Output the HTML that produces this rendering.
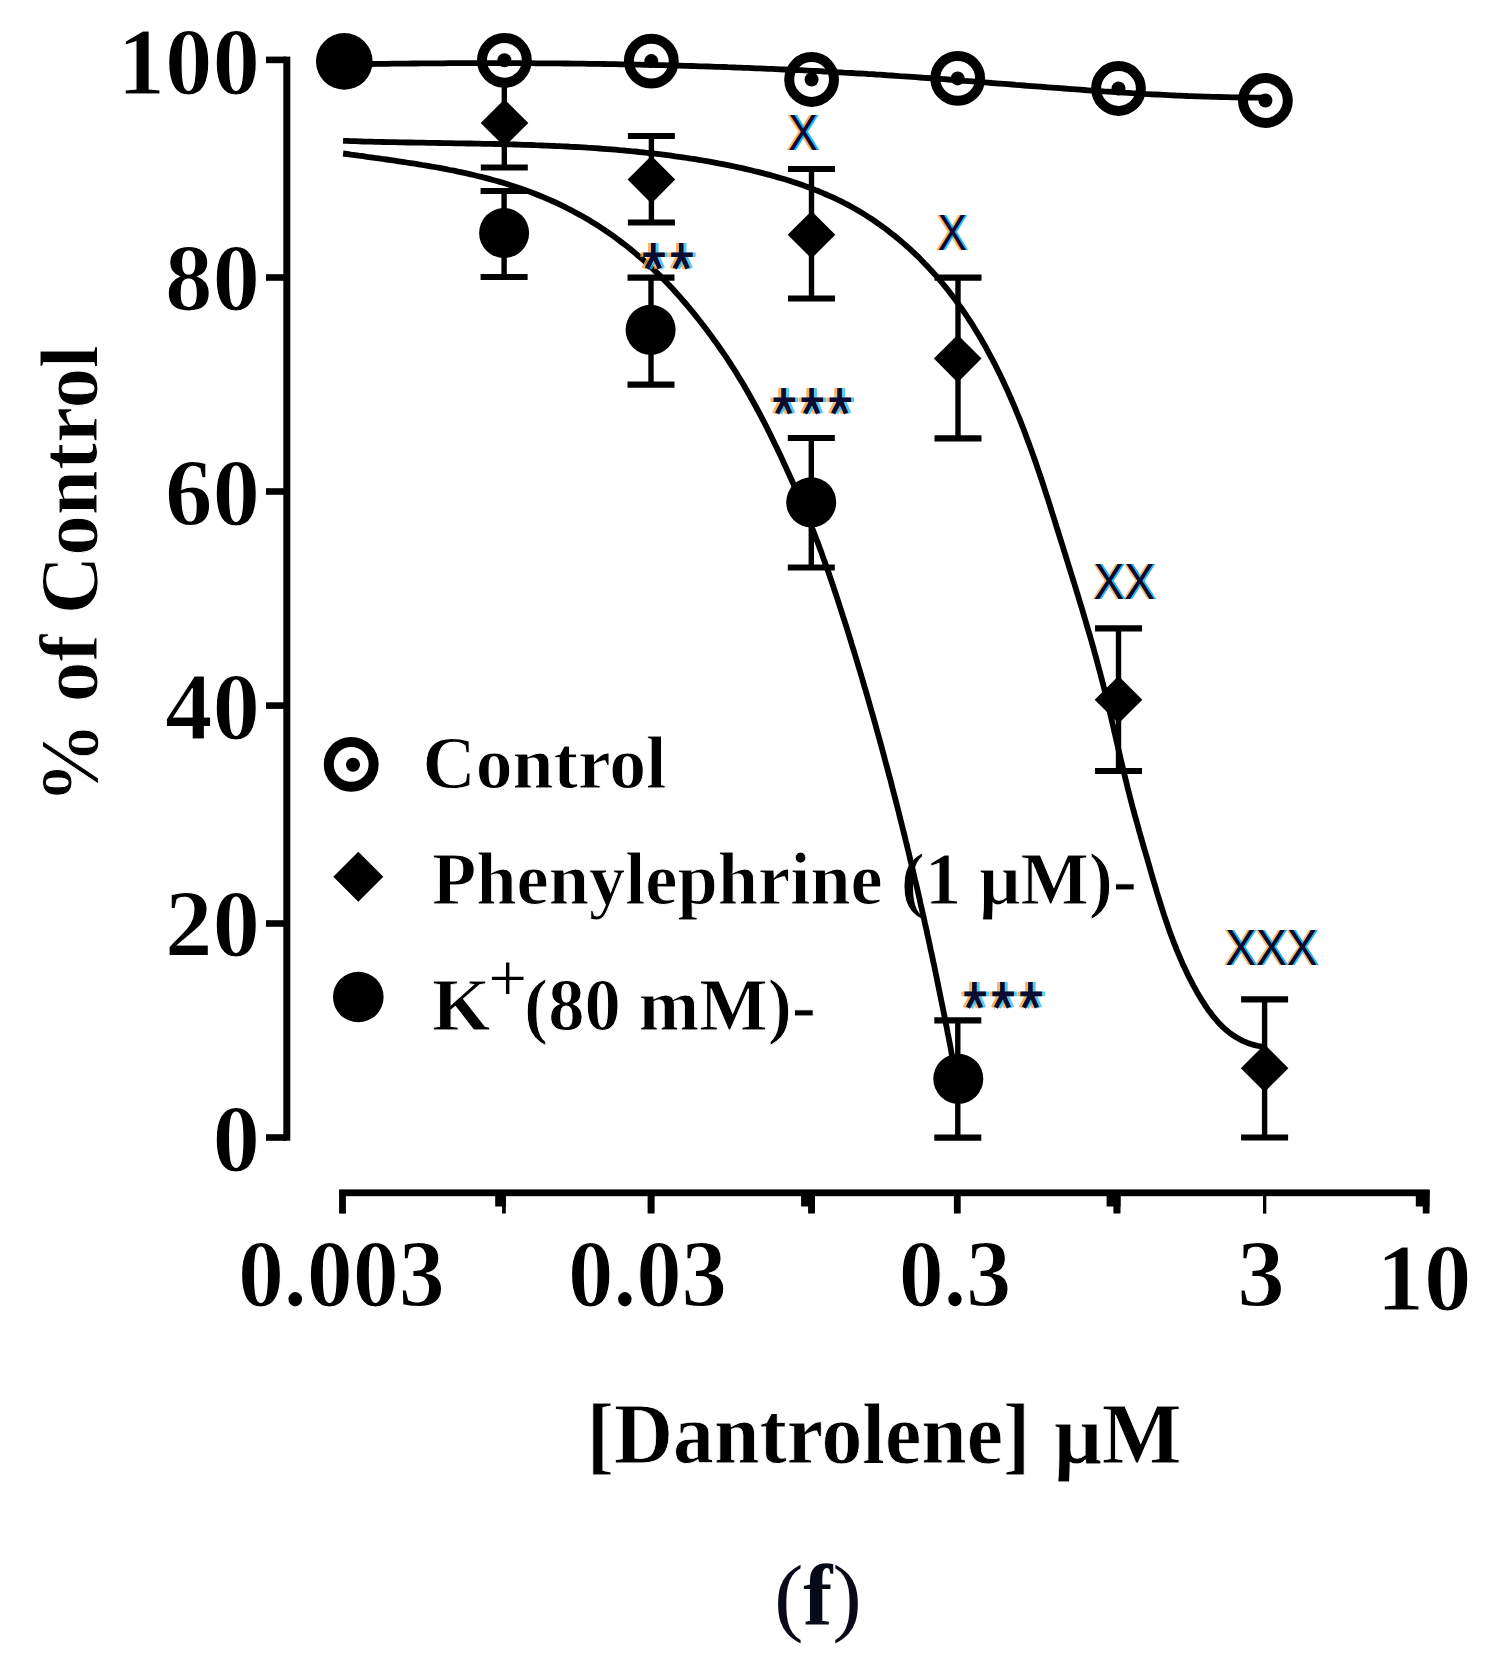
<!DOCTYPE html>
<html><head><meta charset="utf-8"><title>Dantrolene</title>
<style>
html,body{margin:0;padding:0;background:#fff;}
svg{display:block}
.t{font-family:"Liberation Serif",serif;font-weight:bold;fill:#000}
.a{font-family:"Liberation Sans",sans-serif;}
</style></head><body>
<svg width="1492" height="1669" viewBox="0 0 1492 1669">
<rect width="1492" height="1669" fill="#fff"/>

<g fill="#000">
<rect x="283.3" y="56.6" width="7" height="1084.1"/>
<rect x="266" y="56.6" width="20" height="6.6"/>
<rect x="266" y="274.2" width="20" height="6.6"/>
<rect x="266" y="488.2" width="20" height="6.6"/>
<rect x="266" y="702.3" width="20" height="6.6"/>
<rect x="266" y="920.2" width="20" height="6.6"/>
<rect x="266" y="1134.2" width="20" height="6.6"/>
<rect x="339.2" y="1189.4" width="1090.3" height="6.8"/>
<rect x="339.1" y="1190" width="6.8" height="23.6"/>
<rect x="495.2" y="1190" width="10.6" height="16.5"/><rect x="502.1" y="1190" width="3.7" height="23.5"/>
<rect x="647.6" y="1190" width="7" height="23.5"/>
<rect x="801.1" y="1190" width="13.9" height="16.5"/><rect x="808.1" y="1190" width="6.9" height="23.5"/>
<rect x="953.9" y="1190" width="6.8" height="23.5"/>
<rect x="1106.6" y="1190" width="13.9" height="16.5"/><rect x="1113.4" y="1190" width="7.1" height="23.5"/>
<rect x="1263" y="1190" width="3.3" height="23.6"/>
<rect x="1415.8" y="1190" width="13.7" height="16.5"/><rect x="1422.8" y="1190" width="6.7" height="23.5"/>
</g>
<g class="t" font-size="95" text-anchor="end" stroke="#fff" stroke-width="1.2">
<text x="260" y="93.5">100</text>
<text x="260" y="310.0">80</text>
<text x="260" y="524.5">60</text>
<text x="260" y="739.0">40</text>
<text x="260" y="956.0">20</text>
<text x="260" y="1170.5">0</text>
</g>
<g class="t" font-size="95" text-anchor="middle" stroke="#fff" stroke-width="1.2">
<text x="341.3" y="1305.5" textLength="206.8" lengthAdjust="spacingAndGlyphs">0.003</text>
<text x="647.5" y="1305.5" textLength="158.9" lengthAdjust="spacingAndGlyphs">0.03</text>
<text x="955.0" y="1305.5" textLength="112.3" lengthAdjust="spacingAndGlyphs">0.3</text>
<text x="1261.0" y="1305.5">3</text>
<text x="1424.0" y="1309.5">10</text>
</g>
<text class="t" stroke="#fff" stroke-width="1" font-size="83" transform="translate(97 574.5) rotate(-90)" text-anchor="middle" textLength="458" lengthAdjust="spacingAndGlyphs">% of Control</text>
<g class="t" stroke="#fff" stroke-width="0.8" font-size="86"><text x="586.8" y="1463" textLength="443.5" lengthAdjust="spacingAndGlyphs">[Dantrolene]</text><text x="1053.9" y="1463" textLength="127.7" lengthAdjust="spacingAndGlyphs">&#956;M</text></g>
<text class="t" font-size="87.5" x="774.2" y="1624.6" style="fill:#080b17"><tspan font-weight="normal">(</tspan>f<tspan font-weight="normal">)</tspan></text>
<circle cx="351.2" cy="764.4" r="22.4" fill="none" stroke="#000" stroke-width="10"/><circle cx="353" cy="764.7" r="7" fill="#000"/>
<path d="M358.3 851.8l25 25l-25 25l-25 -25z" fill="#000"/>
<circle cx="358.3" cy="997" r="25.3" fill="#000"/>
<g class="t" font-size="75" stroke="#fff" stroke-width="1">
<text x="422.5" y="788" textLength="244" lengthAdjust="spacingAndGlyphs">Control</text>
<text x="432" y="904.4" textLength="705" lengthAdjust="spacingAndGlyphs">Phenylephrine (1 &#956;M)-</text>
<text x="432" y="1029.5">K</text>
<text x="524" y="1029.5" textLength="292" lengthAdjust="spacingAndGlyphs">(80 mM)-</text>
</g>
<text x="488.6" y="1001" font-family="Liberation Serif" font-size="68">+</text>
<g fill="none" stroke="#000" stroke-width="5.8" stroke-linejoin="round" stroke-linecap="butt">
<path d="M344.0 64.4L348.0 64.4L352.0 64.3L356.0 64.2L360.0 64.2L364.0 64.1L368.0 64.1L372.0 64.0L376.0 63.9L380.0 63.9L384.0 63.8L388.0 63.8L392.0 63.7L396.0 63.7L400.0 63.6L404.0 63.6L408.0 63.6L412.0 63.5L416.0 63.5L420.0 63.4L424.0 63.4L428.0 63.4L432.0 63.3L436.0 63.3L440.0 63.3L444.0 63.3L448.0 63.2L452.0 63.2L456.0 63.2L460.0 63.2L464.0 63.2L468.0 63.2L472.0 63.1L476.0 63.1L480.0 63.1L484.0 63.1L488.0 63.1L492.0 63.1L496.0 63.1L500.0 63.1L504.0 63.1L508.0 63.1L512.0 63.2L516.0 63.2L520.0 63.2L524.0 63.2L528.0 63.2L532.0 63.2L536.0 63.3L540.0 63.3L544.0 63.3L548.0 63.3L552.0 63.4L556.0 63.4L560.0 63.4L564.0 63.5L568.0 63.5L572.0 63.6L576.0 63.6L580.0 63.7L584.0 63.7L588.0 63.8L592.0 63.8L596.0 63.9L600.0 63.9L604.0 64.0L608.0 64.1L612.0 64.1L616.0 64.2L620.0 64.3L624.0 64.4L628.0 64.4L632.0 64.5L636.0 64.6L640.0 64.7L644.0 64.8L648.0 64.9L652.0 64.9L656.0 65.0L660.0 65.1L664.0 65.2L668.0 65.3L672.0 65.4L676.0 65.6L680.0 65.7L684.0 65.8L688.0 65.9L692.0 66.0L696.0 66.1L700.0 66.3L704.0 66.4L708.0 66.5L712.0 66.6L716.0 66.8L720.0 66.9L724.0 67.0L728.0 67.2L732.0 67.3L736.0 67.5L740.0 67.6L744.0 67.8L748.0 67.9L752.0 68.1L756.0 68.3L760.0 68.4L764.0 68.6L768.0 68.8L772.0 68.9L776.0 69.1L780.0 69.3L784.0 69.5L788.0 69.7L792.0 69.9L796.0 70.0L800.0 70.2L804.0 70.4L808.0 70.6L812.0 70.8L816.0 71.0L820.0 71.2L824.0 71.5L828.0 71.7L832.0 71.9L836.0 72.1L840.0 72.3L844.0 72.6L848.0 72.8L852.0 73.0L856.0 73.3L860.0 73.5L864.0 73.7L868.0 74.0L872.0 74.2L876.0 74.5L880.0 74.7L884.0 75.0L888.0 75.3L892.0 75.5L896.0 75.8L900.0 76.1L904.0 76.3L908.0 76.6L912.0 76.9L916.0 77.2L920.0 77.5L924.0 77.8L928.0 78.0L932.0 78.3L936.0 78.6L940.0 78.9L944.0 79.2L948.0 79.5L952.0 79.8L956.0 80.2L960.0 80.5L964.0 80.8L968.0 81.1L972.0 81.4L976.0 81.7L980.0 82.0L984.0 82.3L988.0 82.6L992.0 83.0L996.0 83.3L1000.0 83.6L1004.0 83.9L1008.0 84.2L1012.0 84.5L1016.0 84.9L1020.0 85.2L1024.0 85.5L1028.0 85.8L1032.0 86.1L1036.0 86.4L1040.0 86.7L1044.0 87.0L1048.0 87.3L1052.0 87.6L1056.0 87.9L1060.0 88.2L1064.0 88.5L1068.0 88.8L1072.0 89.1L1076.0 89.4L1080.0 89.7L1084.0 90.0L1088.0 90.3L1092.0 90.6L1096.0 90.8L1100.0 91.1L1104.0 91.4L1108.0 91.6L1112.0 91.9L1116.0 92.2L1120.0 92.4L1124.0 92.7L1128.0 92.9L1132.0 93.2L1136.0 93.4L1140.0 93.6L1144.0 93.9L1148.0 94.1L1152.0 94.3L1156.0 94.5L1160.0 94.7L1164.0 94.9L1168.0 95.1L1172.0 95.3L1176.0 95.5L1180.0 95.6L1184.0 95.8L1188.0 96.0L1192.0 96.1L1196.0 96.3L1200.0 96.4L1204.0 96.6L1208.0 96.7L1212.0 96.8L1216.0 96.9L1220.0 97.0L1224.0 97.1L1228.0 97.2L1232.0 97.3L1236.0 97.4L1240.0 97.4L1244.0 97.5L1248.0 97.5L1252.0 97.6L1256.0 97.6L1260.0 97.6L1264.0 97.6L1265.0 97.6"/>
<path d="M343.1 140.8L347.1 140.9L351.1 141.1L355.1 141.2L359.1 141.3L363.1 141.5L367.1 141.6L371.1 141.7L375.1 141.8L379.1 141.9L383.1 142.0L387.1 142.1L391.1 142.2L395.1 142.2L399.2 142.3L403.2 142.4L407.2 142.5L411.2 142.5L415.2 142.6L419.2 142.7L423.2 142.7L427.2 142.8L431.2 142.9L435.2 142.9L439.2 143.0L443.2 143.1L447.2 143.1L451.2 143.2L455.2 143.3L459.3 143.3L463.3 143.4L467.3 143.5L471.3 143.5L475.3 143.6L479.3 143.7L483.3 143.8L487.3 143.8L491.3 143.9L495.3 144.0L499.3 144.1L503.3 144.2L507.3 144.3L511.3 144.4L515.3 144.5L519.4 144.6L523.4 144.8L527.4 144.9L531.4 145.0L535.4 145.2L539.4 145.3L543.4 145.5L547.4 145.6L551.4 145.8L555.4 146.0L559.4 146.1L563.4 146.3L567.4 146.5L571.4 146.8L575.4 147.0L579.4 147.2L583.4 147.4L587.4 147.7L591.4 147.9L595.4 148.2L599.4 148.5L603.4 148.8L607.4 149.1L611.4 149.4L615.4 149.7L619.4 150.1L623.4 150.4L627.4 150.8L631.4 151.2L635.3 151.5L639.3 152.0L643.3 152.4L647.3 152.8L651.3 153.3L655.3 153.7L659.2 154.2L663.2 154.7L667.2 155.2L671.2 155.7L675.1 156.3L679.1 156.8L683.1 157.4L687.0 158.0L691.0 158.6L695.0 159.2L698.9 159.9L702.9 160.5L706.8 161.2L710.8 161.9L714.7 162.6L718.6 163.4L722.6 164.1L726.5 164.9L730.4 165.7L734.4 166.5L738.3 167.4L742.2 168.2L746.1 169.1L750.0 170.0L753.9 171.0L757.8 171.9L761.7 172.9L765.6 173.9L769.4 174.9L773.3 176.0L777.2 177.1L781.0 178.2L784.8 179.3L788.7 180.5L792.5 181.8L796.3 183.0L800.1 184.3L803.9 185.6L807.6 187.0L811.4 188.4L815.1 189.9L818.8 191.3L822.5 192.9L826.2 194.5L829.9 196.1L833.5 197.7L837.2 199.5L840.8 201.2L844.3 203.0L847.9 204.9L851.4 206.8L854.9 208.8L858.4 210.8L861.8 212.8L865.2 214.9L868.6 217.1L872.0 219.3L875.3 221.5L878.6 223.8L881.8 226.1L885.1 228.5L888.3 230.9L891.4 233.4L894.6 235.9L897.7 238.4L900.7 241.0L903.8 243.6L906.8 246.2L909.8 248.9L912.7 251.6L915.6 254.4L918.5 257.2L921.3 260.0L924.1 262.9L926.9 265.8L929.6 268.7L932.4 271.7L935.0 274.6L937.7 277.7L940.3 280.7L942.8 283.8L945.4 286.9L947.9 290.0L950.3 293.2L952.8 296.4L955.2 299.6L957.5 302.8L959.9 306.1L962.2 309.3L964.4 312.6L966.7 316.0L968.9 319.3L971.1 322.7L973.2 326.1L975.3 329.5L977.4 332.9L979.5 336.3L981.5 339.8L983.5 343.3L985.5 346.7L987.4 350.3L989.3 353.8L991.2 357.3L993.1 360.9L994.9 364.4L996.7 368.0L998.5 371.6L1000.3 375.2L1002.0 378.8L1003.7 382.4L1005.4 386.1L1007.1 389.7L1008.7 393.4L1010.3 397.0L1011.9 400.7L1013.5 404.4L1015.1 408.1L1016.6 411.8L1018.1 415.5L1019.6 419.2L1021.1 422.9L1022.6 426.7L1024.0 430.4L1025.4 434.1L1026.8 437.9L1028.2 441.6L1029.6 445.4L1031.0 449.2L1032.3 452.9L1033.7 456.7L1035.0 460.5L1036.3 464.3L1037.6 468.1L1038.9 471.9L1040.2 475.7L1041.5 479.5L1042.7 483.3L1044.0 487.1L1045.2 490.9L1046.4 494.7L1047.7 498.5L1048.9 502.3L1050.1 506.2L1051.3 510.0L1052.5 513.8L1053.7 517.6L1054.9 521.4L1056.1 525.3L1057.3 529.1L1058.5 532.9L1059.7 536.8L1060.9 540.6L1062.1 544.4L1063.3 548.2L1064.5 552.1L1065.7 555.9L1066.8 559.7L1068.0 563.5L1069.2 567.4L1070.4 571.2L1071.6 575.0L1072.8 578.9L1074.0 582.7L1075.2 586.5L1076.3 590.3L1077.5 594.2L1078.7 598.0L1079.8 601.8L1081.0 605.7L1082.2 609.5L1083.3 613.4L1084.4 617.2L1085.6 621.0L1086.7 624.9L1087.8 628.7L1089.0 632.6L1090.1 636.4L1091.2 640.3L1092.3 644.1L1093.4 648.0L1094.4 651.9L1095.5 655.7L1096.6 659.6L1097.6 663.4L1098.6 667.3L1099.7 671.2L1100.7 675.1L1101.7 678.9L1102.7 682.8L1103.7 686.7L1104.6 690.6L1105.6 694.5L1106.5 698.4L1107.5 702.3L1108.4 706.2L1109.3 710.1L1110.3 714.0L1111.2 717.9L1112.1 721.8L1113.0 725.7L1113.9 729.6L1114.8 733.5L1115.7 737.4L1116.6 741.3L1117.5 745.2L1118.4 749.1L1119.3 753.0L1120.2 756.9L1121.1 760.8L1122.1 764.7L1123.0 768.6L1123.9 772.5L1124.9 776.4L1125.8 780.3L1126.8 784.2L1127.7 788.1L1128.7 792.0L1129.7 795.9L1130.7 799.7L1131.7 803.6L1132.7 807.5L1133.8 811.4L1134.8 815.2L1135.9 819.1L1137.0 823.0L1138.1 826.8L1139.1 830.7L1140.2 834.5L1141.3 838.4L1142.4 842.2L1143.5 846.1L1144.6 849.9L1145.8 853.8L1146.9 857.6L1148.0 861.5L1149.1 865.3L1150.2 869.2L1151.3 873.1L1152.4 876.9L1153.5 880.7L1154.7 884.6L1155.8 888.4L1156.9 892.3L1158.1 896.1L1159.3 899.9L1160.5 903.8L1161.7 907.6L1162.9 911.4L1164.1 915.2L1165.4 919.0L1166.7 922.8L1168.0 926.6L1169.3 930.4L1170.7 934.2L1172.1 937.9L1173.5 941.7L1175.0 945.4L1176.4 949.1L1178.0 952.8L1179.5 956.5L1181.1 960.2L1182.7 963.9L1184.4 967.5L1186.1 971.1L1187.8 974.7L1189.6 978.3L1191.5 981.9L1193.3 985.4L1195.3 988.9L1197.2 992.4L1199.3 995.9L1201.3 999.3L1203.5 1002.7L1205.7 1006.1L1207.9 1009.4L1210.3 1012.6L1212.7 1015.8L1215.3 1018.9L1217.9 1021.9L1220.6 1024.8L1223.5 1027.6L1226.5 1030.3L1229.6 1032.8L1232.9 1035.2L1236.2 1037.3L1239.7 1039.3L1243.3 1041.1L1247.0 1042.7L1250.8 1044.0L1254.6 1045.1L1258.5 1046.0L1262.5 1046.6L1266.5 1047.1"/>
<path d="M343.1 153.5L347.0 154.0L351.0 154.6L355.0 155.1L358.9 155.7L362.9 156.2L366.9 156.8L370.9 157.3L374.8 157.9L378.8 158.4L382.8 159.0L386.7 159.5L390.7 160.1L394.7 160.7L398.7 161.3L402.6 161.9L406.6 162.5L410.5 163.1L414.5 163.7L418.5 164.3L422.4 165.0L426.4 165.6L430.3 166.3L434.3 167.0L438.2 167.7L442.2 168.4L446.1 169.2L450.0 170.0L454.0 170.7L457.9 171.6L461.8 172.4L465.7 173.2L469.7 174.1L473.6 175.0L477.5 176.0L481.4 176.9L485.2 177.9L489.1 178.9L493.0 180.0L496.9 181.0L500.7 182.1L504.5 183.3L508.4 184.5L512.2 185.7L516.0 186.9L519.8 188.2L523.6 189.5L527.4 190.9L531.1 192.3L534.9 193.7L538.6 195.2L542.3 196.7L546.0 198.3L549.7 199.9L553.3 201.5L557.0 203.2L560.6 204.9L564.2 206.7L567.8 208.5L571.4 210.3L574.9 212.2L578.4 214.1L581.9 216.0L585.4 218.0L588.9 220.1L592.3 222.2L595.7 224.3L599.1 226.4L602.4 228.6L605.8 230.8L609.1 233.1L612.4 235.4L615.6 237.8L618.8 240.1L622.0 242.6L625.2 245.0L628.4 247.5L631.5 250.0L634.6 252.6L637.6 255.2L640.7 257.8L643.7 260.4L646.7 263.1L649.6 265.8L652.5 268.5L655.4 271.3L658.3 274.1L661.2 276.9L664.0 279.8L666.8 282.7L669.5 285.6L672.3 288.5L675.0 291.5L677.7 294.4L680.3 297.4L683.0 300.5L685.6 303.5L688.2 306.6L690.7 309.6L693.3 312.7L695.8 315.9L698.3 319.0L700.8 322.2L703.2 325.3L705.7 328.5L708.1 331.7L710.5 334.9L712.8 338.2L715.2 341.4L717.5 344.7L719.8 348.0L722.1 351.2L724.4 354.6L726.6 357.9L728.8 361.2L731.0 364.6L733.2 368.0L735.3 371.3L737.4 374.8L739.5 378.2L741.6 381.6L743.7 385.0L745.7 388.5L747.7 392.0L749.7 395.5L751.6 399.0L753.6 402.5L755.5 406.0L757.4 409.5L759.3 413.0L761.2 416.6L763.0 420.2L764.9 423.7L766.7 427.3L768.5 430.9L770.3 434.5L772.0 438.1L773.8 441.7L775.5 445.3L777.3 448.9L779.0 452.5L780.7 456.1L782.4 459.8L784.1 463.4L785.8 467.1L787.4 470.7L789.1 474.3L790.7 478.0L792.4 481.7L794.0 485.3L795.6 489.0L797.3 492.7L798.9 496.3L800.5 500.0L802.0 503.7L803.6 507.4L805.2 511.1L806.7 514.8L808.2 518.5L809.7 522.2L811.2 525.9L812.7 529.6L814.2 533.4L815.6 537.1L817.1 540.9L818.5 544.6L819.9 548.4L821.3 552.1L822.6 555.9L824.0 559.7L825.3 563.5L826.6 567.2L828.0 571.0L829.3 574.8L830.6 578.6L831.9 582.4L833.2 586.2L834.4 590.0L835.7 593.8L837.0 597.6L838.2 601.4L839.4 605.2L840.7 609.1L841.9 612.9L843.1 616.7L844.4 620.5L845.6 624.3L846.8 628.2L848.0 632.0L849.2 635.8L850.4 639.6L851.5 643.5L852.7 647.3L853.9 651.1L855.1 655.0L856.2 658.8L857.4 662.7L858.5 666.5L859.7 670.3L860.8 674.2L862.0 678.0L863.1 681.9L864.2 685.7L865.4 689.6L866.5 693.4L867.6 697.3L868.7 701.1L869.8 705.0L870.9 708.8L872.0 712.7L873.1 716.5L874.2 720.4L875.3 724.3L876.3 728.1L877.4 732.0L878.5 735.9L879.6 739.7L880.6 743.6L881.7 747.5L882.7 751.3L883.8 755.2L884.8 759.1L885.8 762.9L886.9 766.8L887.9 770.7L888.9 774.6L890.0 778.4L891.0 782.3L892.0 786.2L893.0 790.1L894.0 794.0L895.0 797.8L896.0 801.7L897.0 805.6L898.0 809.5L899.0 813.4L899.9 817.3L900.9 821.2L901.9 825.1L902.8 828.9L903.8 832.8L904.8 836.7L905.7 840.6L906.7 844.5L907.6 848.4L908.6 852.3L909.5 856.2L910.4 860.1L911.4 864.0L912.3 867.9L913.2 871.8L914.1 875.7L915.0 879.6L916.0 883.5L916.9 887.4L917.8 891.3L918.7 895.3L919.6 899.2L920.4 903.1L921.3 907.0L922.2 910.9L923.1 914.8L924.0 918.7L924.8 922.6L925.7 926.5L926.6 930.5L927.4 934.4L928.3 938.3L929.1 942.2L930.0 946.1L930.8 950.1L931.7 954.0L932.5 957.9L933.3 961.8L934.2 965.7L935.0 969.7L935.8 973.6L936.6 977.5L937.4 981.4L938.2 985.4L939.0 989.3L939.8 993.2L940.6 997.2L941.4 1001.1L942.2 1005.0L943.0 1009.0L943.8 1012.9L944.6 1016.8L945.3 1020.8L946.1 1024.7L946.9 1028.6L947.6 1032.6L948.4 1036.5L949.2 1040.4L949.9 1044.4L950.7 1048.3L951.4 1052.3L952.1 1056.2L952.9 1060.1L953.6 1064.1"/>
</g>
<g stroke="#000" fill="none">
<path d="M480.8 167.5H527.8" stroke-width="6.2"/>
<path d="M504.3 80.0V167.5" stroke-width="5.4"/>
<path d="M627.9 136.0H674.9" stroke-width="6.2"/>
<path d="M627.9 222.5H674.9" stroke-width="6.2"/>
<path d="M651.4 136.0V222.5" stroke-width="5.4"/>
<path d="M788.0 169.0H835.0" stroke-width="6.2"/>
<path d="M788.0 298.5H835.0" stroke-width="6.2"/>
<path d="M811.5 169.0V298.5" stroke-width="5.4"/>
<path d="M934.5 277.7H981.5" stroke-width="6.2"/>
<path d="M934.5 438.3H981.5" stroke-width="6.2"/>
<path d="M958.0 277.7V438.3" stroke-width="5.4"/>
<path d="M1095.0 628.4H1142.0" stroke-width="6.2"/>
<path d="M1095.0 771.0H1142.0" stroke-width="6.2"/>
<path d="M1118.5 628.4V771.0" stroke-width="5.4"/>
<path d="M1241.1 999.3H1288.1" stroke-width="6.2"/>
<path d="M1241.1 1137.5H1288.1" stroke-width="6.2"/>
<path d="M1264.6 999.3V1137.5" stroke-width="5.4"/>
<path d="M480.6 191.0H527.6" stroke-width="6.2"/>
<path d="M480.6 277.0H527.6" stroke-width="6.2"/>
<path d="M504.1 191.0V277.0" stroke-width="5.4"/>
<path d="M627.5 277.6H674.5" stroke-width="6.2"/>
<path d="M627.5 384.6H674.5" stroke-width="6.2"/>
<path d="M651.0 277.6V384.6" stroke-width="5.4"/>
<path d="M787.8 438.0H834.8" stroke-width="6.2"/>
<path d="M787.8 567.5H834.8" stroke-width="6.2"/>
<path d="M811.3 438.0V567.5" stroke-width="5.4"/>
<path d="M934.3 1020.3H981.3" stroke-width="6.2"/>
<path d="M934.3 1137.6H981.3" stroke-width="6.2"/>
<path d="M957.8 1020.3V1137.6" stroke-width="5.4"/>
</g>
<g>
<circle cx="504.4" cy="60.3" r="22.4" fill="none" stroke="#000" stroke-width="10"/><circle cx="504.4" cy="60.3" r="7" fill="#000"/>
<circle cx="651.3" cy="61.1" r="22.4" fill="none" stroke="#000" stroke-width="10"/><circle cx="651.3" cy="61.1" r="7" fill="#000"/>
<circle cx="811.6" cy="79.5" r="22.4" fill="none" stroke="#000" stroke-width="10"/><circle cx="811.6" cy="79.5" r="7" fill="#000"/>
<circle cx="957.7" cy="78.4" r="22.4" fill="none" stroke="#000" stroke-width="10"/><circle cx="957.7" cy="78.4" r="7" fill="#000"/>
<circle cx="1118.5" cy="88.5" r="22.4" fill="none" stroke="#000" stroke-width="10"/><circle cx="1118.5" cy="88.5" r="7" fill="#000"/>
<circle cx="1265.4" cy="100.5" r="22.4" fill="none" stroke="#000" stroke-width="10"/><circle cx="1265.4" cy="100.5" r="7" fill="#000"/>
</g>
<g fill="#000">
<path d="M504.5 99.2l23.8 23.8l-23.8 23.8l-23.8 -23.8z"/>
<path d="M651.4 155.8l23.8 23.8l-23.8 23.8l-23.8 -23.8z"/>
<path d="M811.5 210.9l23.8 23.8l-23.8 23.8l-23.8 -23.8z"/>
<path d="M957.7 334.8l23.8 23.8l-23.8 23.8l-23.8 -23.8z"/>
<path d="M1118.5 675.9l23.8 23.8l-23.8 23.8l-23.8 -23.8z"/>
<path d="M1264.6 1044.4l23.8 23.8l-23.8 23.8l-23.8 -23.8z"/>
</g>
<g fill="#000">
<circle cx="504.1" cy="233.0" r="25"/>
<circle cx="650.6" cy="329.8" r="25"/>
<circle cx="811.2" cy="502.3" r="25"/>
<circle cx="958.3" cy="1078.8" r="25"/>
<circle cx="344.3" cy="61.4" r="28.3"/>
</g>
<text class="a" x="785.8" y="149.6" font-size="50" fill="#f7a23a" fill-opacity="0.75" textLength="29.9" lengthAdjust="spacingAndGlyphs">X</text><text class="a" x="790.2" y="149.6" font-size="50" fill="#1ab2f2" fill-opacity="0.95" textLength="29.9" lengthAdjust="spacingAndGlyphs">X</text><text class="a" x="788.0" y="149.6" font-size="50" fill="#0b0c30" fill-opacity="1" textLength="29.9" lengthAdjust="spacingAndGlyphs">X</text>
<text class="a" x="935.2" y="249.5" font-size="50" fill="#f7a23a" fill-opacity="0.75" textLength="29.4" lengthAdjust="spacingAndGlyphs">X</text><text class="a" x="939.6" y="249.5" font-size="50" fill="#1ab2f2" fill-opacity="0.95" textLength="29.4" lengthAdjust="spacingAndGlyphs">X</text><text class="a" x="937.4" y="249.5" font-size="50" fill="#0b0c30" fill-opacity="1" textLength="29.4" lengthAdjust="spacingAndGlyphs">X</text>
<text class="a" x="1091.4" y="598.9" font-size="50" fill="#f7a23a" fill-opacity="0.75" textLength="61.5" lengthAdjust="spacingAndGlyphs">XX</text><text class="a" x="1095.8" y="598.9" font-size="50" fill="#1ab2f2" fill-opacity="0.95" textLength="61.5" lengthAdjust="spacingAndGlyphs">XX</text><text class="a" x="1093.6" y="598.9" font-size="50" fill="#0b0c30" fill-opacity="1" textLength="61.5" lengthAdjust="spacingAndGlyphs">XX</text>
<text class="a" x="1223.0" y="964.6" font-size="50" fill="#f7a23a" fill-opacity="0.75" textLength="92.5" lengthAdjust="spacingAndGlyphs">XXX</text><text class="a" x="1227.4" y="964.6" font-size="50" fill="#1ab2f2" fill-opacity="0.95" textLength="92.5" lengthAdjust="spacingAndGlyphs">XXX</text><text class="a" x="1225.2" y="964.6" font-size="50" fill="#0b0c30" fill-opacity="1" textLength="92.5" lengthAdjust="spacingAndGlyphs">XXX</text>
<g fill="none" stroke-width="4.6">
<path d="M653.3 243.0V257.0M643.3 254.8H664.8M653.3 256.0L646.8 268.5M654.3 256.0L659.8 268.5M681.2 243.0V257.0M671.2 254.8H692.7M681.2 256.0L674.7 268.5M682.2 256.0L687.7 268.5M783.6 388.0V402.0M773.6 399.8H795.1M783.6 401.0L777.1 413.5M784.6 401.0L790.1 413.5M811.6 388.0V402.0M801.6 399.8H823.1M811.6 401.0L805.1 413.5M812.6 401.0L818.1 413.5M839.6 388.0V402.0M829.6 399.8H851.1M839.6 401.0L833.1 413.5M840.6 401.0L846.1 413.5M974.4 982.1V996.1M964.4 993.9H985.9M974.4 995.1L967.9 1007.6M975.4 995.1L980.9 1007.6M1002.4 982.1V996.1M992.4 993.9H1013.9M1002.4 995.1L995.9 1007.6M1003.4 995.1L1008.9 1007.6M1030.4 982.1V996.1M1020.4 993.9H1041.9M1030.4 995.1L1023.9 1007.6M1031.4 995.1L1036.9 1007.6" stroke="#f7a23a" stroke-opacity="0.8" transform="translate(-3 0)"/>
<path d="M653.3 243.0V257.0M643.3 254.8H664.8M653.3 256.0L646.8 268.5M654.3 256.0L659.8 268.5M681.2 243.0V257.0M671.2 254.8H692.7M681.2 256.0L674.7 268.5M682.2 256.0L687.7 268.5M783.6 388.0V402.0M773.6 399.8H795.1M783.6 401.0L777.1 413.5M784.6 401.0L790.1 413.5M811.6 388.0V402.0M801.6 399.8H823.1M811.6 401.0L805.1 413.5M812.6 401.0L818.1 413.5M839.6 388.0V402.0M829.6 399.8H851.1M839.6 401.0L833.1 413.5M840.6 401.0L846.1 413.5M974.4 982.1V996.1M964.4 993.9H985.9M974.4 995.1L967.9 1007.6M975.4 995.1L980.9 1007.6M1002.4 982.1V996.1M992.4 993.9H1013.9M1002.4 995.1L995.9 1007.6M1003.4 995.1L1008.9 1007.6M1030.4 982.1V996.1M1020.4 993.9H1041.9M1030.4 995.1L1023.9 1007.6M1031.4 995.1L1036.9 1007.6" stroke="#26bdf5" stroke-opacity="0.8" transform="translate(3 0)"/>
<path d="M653.3 243.0V257.0M643.3 254.8H664.8M653.3 256.0L646.8 268.5M654.3 256.0L659.8 268.5M681.2 243.0V257.0M671.2 254.8H692.7M681.2 256.0L674.7 268.5M682.2 256.0L687.7 268.5M783.6 388.0V402.0M773.6 399.8H795.1M783.6 401.0L777.1 413.5M784.6 401.0L790.1 413.5M811.6 388.0V402.0M801.6 399.8H823.1M811.6 401.0L805.1 413.5M812.6 401.0L818.1 413.5M839.6 388.0V402.0M829.6 399.8H851.1M839.6 401.0L833.1 413.5M840.6 401.0L846.1 413.5M974.4 982.1V996.1M964.4 993.9H985.9M974.4 995.1L967.9 1007.6M975.4 995.1L980.9 1007.6M1002.4 982.1V996.1M992.4 993.9H1013.9M1002.4 995.1L995.9 1007.6M1003.4 995.1L1008.9 1007.6M1030.4 982.1V996.1M1020.4 993.9H1041.9M1030.4 995.1L1023.9 1007.6M1031.4 995.1L1036.9 1007.6" stroke="#0b0c30"/>
</g>
</svg>
</body></html>
